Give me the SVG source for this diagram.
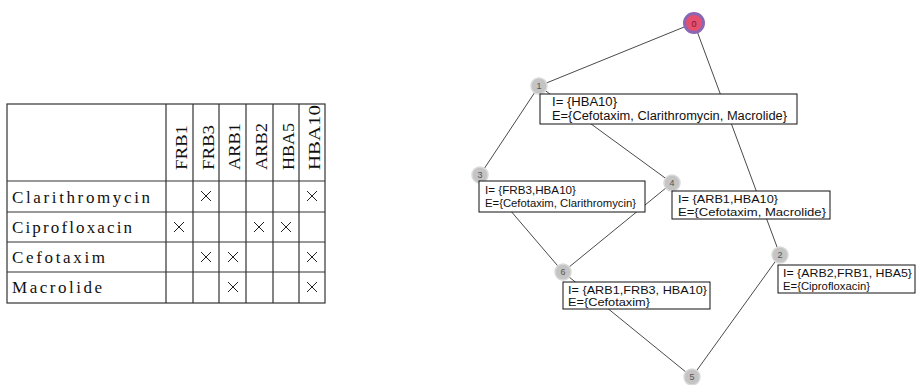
<svg xmlns="http://www.w3.org/2000/svg" width="917" height="385" viewBox="0 0 917 385">
<style>
.grid{stroke:#333;stroke-width:1.2;fill:none}
.tx{font-family:"Liberation Serif","DejaVu Serif",serif;font-size:17px;fill:#111}
.xm{stroke:#222;stroke-width:1;fill:none}
.edge{stroke:#4a4a4a;stroke-width:1;fill:none}
.nd{fill:#c4c4c4;stroke:#d9d9d9;stroke-width:1.5}
.nl{font-family:"Liberation Sans",Arial,sans-serif;font-size:9px;fill:#555;text-anchor:middle}
.box{fill:#fff;stroke:#111;stroke-width:1}
.lb{font-family:"Liberation Sans",Arial,sans-serif;fill:#111}
</style>
<rect width="917" height="385" fill="#fff"/>
<g id="table">
<rect class="grid" x="7" y="104" width="318" height="199"/>
<path class="grid" d="M7 181H325M7 212H325M7 242H325M7 272H325M166 104V303M193 104V303M219 104V303M246 104V303M273 104V303M299 104V303"/>
<g class="tx">
<text x="187" y="170" transform="rotate(-90 187 170)" textLength="45" lengthAdjust="spacingAndGlyphs">FRB1</text>
<text x="214" y="170" transform="rotate(-90 214 170)" textLength="45" lengthAdjust="spacingAndGlyphs">FRB3</text>
<text x="240" y="170" transform="rotate(-90 240 170)" textLength="47" lengthAdjust="spacingAndGlyphs">ARB1</text>
<text x="267" y="170" transform="rotate(-90 267 170)" textLength="47" lengthAdjust="spacingAndGlyphs">ARB2</text>
<text x="294" y="170" transform="rotate(-90 294 170)" textLength="47" lengthAdjust="spacingAndGlyphs">HBA5</text>
<text x="320" y="170" transform="rotate(-90 320 170)" textLength="65" lengthAdjust="spacingAndGlyphs">HBA10</text>
<text x="12" y="203" textLength="138" lengthAdjust="spacing">Clarithromycin</text>
<text x="12" y="233" textLength="120" lengthAdjust="spacing">Ciprofloxacin</text>
<text x="12" y="263" textLength="93" lengthAdjust="spacing">Cefotaxim</text>
<text x="12" y="293" textLength="90" lengthAdjust="spacing">Macrolide</text>
</g>
<path class="xm" d="M201 191l10 10m0-10l-10 10 M307 191l10 10m0-10l-10 10
M174 222l10 10m0-10l-10 10 M254 222l10 10m0-10l-10 10 M281 222l10 10m0-10l-10 10
M201 252l10 10m0-10l-10 10 M228 252l10 10m0-10l-10 10 M307 252l10 10m0-10l-10 10
M228 282l10 10m0-10l-10 10 M307 282l10 10m0-10l-10 10"/>
</g>
<g id="connectors">
<line class="edge" x1="694" y1="23" x2="539" y2="86"/>
<line class="edge" x1="694" y1="23" x2="780" y2="255"/>
<line class="edge" x1="539" y1="86" x2="480" y2="175"/>
<line class="edge" x1="539" y1="86" x2="672" y2="183"/>
<line class="edge" x1="480" y1="175" x2="563" y2="272"/>
<line class="edge" x1="672" y1="183" x2="563" y2="272"/>
<line class="edge" x1="563" y1="272" x2="692" y2="377"/>
<line class="edge" x1="780" y1="255" x2="692" y2="377"/>
</g>
<g id="node0">
<circle cx="694" cy="23" r="9.5" fill="#e4506e" stroke="#8a66b4" stroke-width="3"/>
<text class="nl" x="694" y="26.5" style="fill:#801535">0</text>
</g>
<g id="node1">
<circle class="nd" cx="539" cy="86" r="8"/>
<text class="nl" x="539" y="89">1</text>
<rect class="box" x="540" y="94" width="257" height="30"/>
<text class="lb" font-size="12.5" x="552" y="105.5" textLength="65" lengthAdjust="spacingAndGlyphs">I= {HBA10}</text>
<text class="lb" font-size="12.5" x="552" y="120" textLength="235" lengthAdjust="spacingAndGlyphs">E={Cefotaxim, Clarithromycin, Macrolide}</text>
</g>
<g id="node3">
<circle class="nd" cx="480" cy="175" r="8"/>
<text class="nl" x="480" y="178">3</text>
<rect class="box" x="479" y="181" width="166" height="31"/>
<text class="lb" font-size="11" x="485" y="193.5" textLength="91" lengthAdjust="spacingAndGlyphs">I= {FRB3,HBA10}</text>
<text class="lb" font-size="11" x="485" y="206.5" textLength="151" lengthAdjust="spacingAndGlyphs">E={Cefotaxim, Clarithromycin}</text>
</g>
<g id="node4">
<circle class="nd" cx="672" cy="183" r="8"/>
<text class="nl" x="672" y="186">4</text>
<rect class="box" x="672" y="191" width="158" height="28"/>
<text class="lb" font-size="11.5" x="678" y="202.5" textLength="100" lengthAdjust="spacingAndGlyphs">I= {ARB1,HBA10}</text>
<text class="lb" font-size="11.5" x="678" y="216" textLength="148" lengthAdjust="spacingAndGlyphs">E={Cefotaxim, Macrolide}</text>
</g>
<g id="node2">
<circle class="nd" cx="780" cy="255" r="8"/>
<text class="nl" x="780" y="258">2</text>
<rect class="box" x="778" y="265" width="137" height="28"/>
<text class="lb" font-size="11" x="783" y="276.5" textLength="129" lengthAdjust="spacingAndGlyphs">I= {ARB2,FRB1, HBA5}</text>
<text class="lb" font-size="11" x="783" y="289.5" textLength="87" lengthAdjust="spacingAndGlyphs">E={Ciprofloxacin}</text>
</g>
<g id="node6">
<circle class="nd" cx="563" cy="272" r="8"/>
<text class="nl" x="563" y="275">6</text>
<rect class="box" x="563" y="282" width="147" height="27"/>
<text class="lb" font-size="11" x="568" y="293.5" textLength="139" lengthAdjust="spacingAndGlyphs">I= {ARB1,FRB3, HBA10}</text>
<text class="lb" font-size="11" x="568" y="306" textLength="82" lengthAdjust="spacingAndGlyphs">E={Cefotaxim}</text>
</g>
<g id="node5">
<circle class="nd" cx="692" cy="377" r="8"/>
<text class="nl" x="692" y="380">5</text>
</g>
</svg>
